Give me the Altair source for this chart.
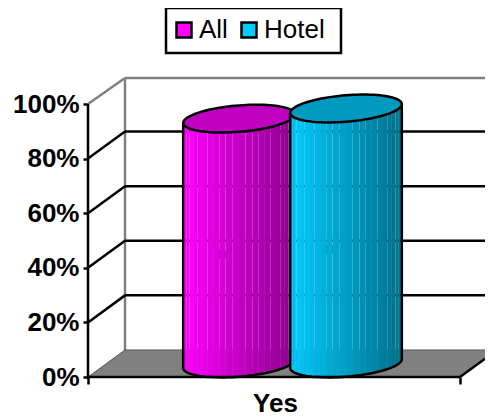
import math
import altair as alt
import pandas as pd

series = ["All", "Hotel"]
values = [89.7, 93.4]
face_colors = [(255, 0, 255), (0, 204, 255)]
cap_colors = ["#C000C0", "#0099C0"]
centers = [133.5, 240.5]          # front-plane position of each cylinder
y_ticks = [0, 20, 40, 60, 80, 100]
category = "Yes"

PLOT_W, PLOT_H = 397, 300
FRONT_W = 372
DEPTH_X, DEPTH_Y = 35, 9.9        # depth shift: x units, percent
SEMI_A, SEMI_B, SEMI_C = 53, 17.5, 5.1
STRIPS = 26
ARC = 48
Y_TOP = PLOT_H / 2.73
EDGE_Y = (PLOT_W - FRONT_W) / (DEPTH_X + 2) * DEPTH_Y

xs = alt.Scale(domain=[0, PLOT_W], nice=False, zero=False)
ys = alt.Scale(domain=[0, Y_TOP], nice=False, zero=False)
x_axis = alt.Axis(
    values=[0, FRONT_W], labels=False, grid=False, domain=False,
    tickColor="black", tickWidth=2.5, tickSize=7,
    titleFont="Liberation Sans", titleFontSize=26, titleFontWeight="bold",
    titleColor="black", titleX=187, titleY=34, titleBaseline="alphabetic")
y_axis = alt.Axis(
    values=y_ticks, labelExpr="datum.value + '%'", grid=False,
    domain=False, tickColor="black", tickWidth=2.5, tickSize=5,
    labelFont="Liberation Sans", labelFontSize=26, labelFontWeight="bold",
    labelColor="black", labelPadding=4)
X = alt.X("x:Q", scale=xs, axis=x_axis, title=category)
Y = alt.Y("y:Q", scale=ys, axis=y_axis, title=None)


def segs(rows, color, width):
    df = pd.DataFrame(rows, columns=["x", "x2", "y", "y2"])
    return alt.Chart(df).mark_rule(color=color, strokeWidth=width).encode(
        x=X, x2="x2:Q", y=Y, y2="y2:Q")


t0 = math.atan2(SEMI_B, SEMI_A)


def ell(cx, base, t):
    return (cx + DEPTH_X / 2 + SEMI_A * math.cos(t) + SEMI_B * math.sin(t),
            base + DEPTH_Y / 2 + SEMI_C * math.sin(t))


def cylinder(i):
    cx, v = centers[i], values[i]
    r0, g0, b0 = face_colors[i]
    strip_rows = []
    for k in range(STRIPS):
        s1 = math.pi * (k + 1) / STRIPS
        s2 = math.pi * k / STRIPS
        mid = (1 - math.cos((s1 + s2) / 2)) / 2     # 0 right .. 1 left
        f = 0.55 + 0.45 * mid
        col = "#%02x%02x%02x" % (int(r0 * f), int(g0 * f), int(b0 * f))
        for s in (s1, s2):
            x, yb = ell(cx, 0, t0 - s)
            _, yt = ell(cx, v, t0 - s)
            strip_rows.append({"x": x, "y": yt, "y2": yb, "c": col, "k": k})
    strips = alt.Chart(pd.DataFrame(strip_rows)).mark_area(interpolate="linear").encode(
        x=X, y=Y, y2="y2:Q",
        color=alt.Color("c:N", scale=None, legend=None), detail="k:N")

    arc = [dict(zip(("x", "y"), ell(cx, 0, t0 - math.pi * n / ARC))) for n in range(ARC + 1)]
    xl, yl = ell(cx, v, t0 - math.pi)
    xr, yr = ell(cx, v, t0)
    outline = [{"x": xl, "y": yl}] + arc[::-1] + [{"x": xr, "y": yr}]
    for o, row in enumerate(outline):
        row["o"] = o
    body_line = alt.Chart(pd.DataFrame(outline)).mark_line(
        color="black", strokeWidth=2.5).encode(x=X, y=Y, order="o:Q")

    cap_rows = []
    ring = []
    for n in range(ARC + 1):
        s = math.pi * n / ARC
        x, up = ell(cx, v, t0 + s)
        _, lo = ell(cx, v, t0 - s)
        cap_rows.append({"x": x, "y": up, "y2": lo})
    for n in range(2 * ARC + 1):
        x, y = ell(cx, v, t0 + math.pi * n / ARC)
        ring.append({"x": x, "y": y, "o": n})
    cap = alt.Chart(pd.DataFrame(cap_rows)).mark_area(color=cap_colors[i]).encode(
        x=X, y=Y, y2="y2:Q")
    cap_line = alt.Chart(pd.DataFrame(ring)).mark_line(
        color="black", strokeWidth=2.5).encode(x=X, y=Y, order="o:Q")
    return [strips, body_line, cap, cap_line]


floor = alt.Chart(pd.DataFrame([
    {"x": 0, "y": 0, "y2": 0},
    {"x": DEPTH_X + 2, "y": DEPTH_Y, "y2": 0},
    {"x": FRONT_W, "y": DEPTH_Y, "y2": 0},
    {"x": PLOT_W, "y": DEPTH_Y, "y2": EDGE_Y},
])).mark_area(color="#808080").encode(x=X, y=Y, y2="y2:Q")

wall_lines = segs(
    [[DEPTH_X + 2, PLOT_W, Y_TOP - 0.4, Y_TOP - 0.4],
     [DEPTH_X + 2, DEPTH_X + 2, DEPTH_Y, Y_TOP - 0.4],
     [0, DEPTH_X + 2, 100, Y_TOP - 0.4]],
    "#808080", 2.5)
floor_edges = segs(
    [[0, DEPTH_X + 2, 0, DEPTH_Y],
     [DEPTH_X + 2, PLOT_W, DEPTH_Y, DEPTH_Y]],
    "#555555", 1)
grid = segs(
    [[DEPTH_X + 2, PLOT_W, v + DEPTH_Y, v + DEPTH_Y] for v in y_ticks[1:-1]],
    "black", 2.5)
diagonals = segs(
    [[0, DEPTH_X + 2, v, v + DEPTH_Y] for v in y_ticks[1:-1]],
    "black", 2.5)
front_right = segs([[FRONT_W, PLOT_W, 0, EDGE_Y]], "black", 2.5)
front = segs([[0, FRONT_W, 0, 0], [0, 0, 0, 100]], "black", 2.5)

legend_box = alt.Chart(pd.DataFrame([
    {"x": 78, "x2": 253, "y": Y_TOP + 24 / 2.73, "y2": Y_TOP + 69 / 2.73}
])).mark_rect(fill="white", stroke="black", strokeWidth=2.5, clip=False).encode(
    x=X, x2="x2:Q", y=Y, y2="y2:Q")

legend_df = pd.DataFrame({"x": centers, "y": [v / 2 for v in values], "s": series})
legend_layer = alt.Chart(legend_df).mark_square(size=40, stroke="black", opacity=1).encode(
    x=X, y=Y,
    fill=alt.Fill("s:N", sort=series, scale=alt.Scale(
        domain=series, range=["#FF00FF", "#00CCFF"]),
        legend=alt.Legend(
            orient="none", legendX=77, legendY=-66, title=None, columns=2,
            symbolType="square", symbolSize=225, symbolStrokeWidth=2.5,
            symbolStrokeColor="black",
            labelFont="Liberation Sans", labelFontSize=26, labelColor="black",
            labelOffset=2, columnPadding=8, padding=6)),
)

layers = [legend_box, floor, wall_lines, floor_edges, grid, diagonals, front_right, legend_layer]
layers += cylinder(0) + cylinder(1)
layers += [front]

chart = alt.layer(*layers).properties(
    width=PLOT_W, height=PLOT_H,
    padding={"left": 80, "top": 69, "right": 0, "bottom": 39},
    autosize=alt.AutoSizeParams(type="none"),
).configure_view(stroke=None)

chart.save("out.html", embed_options={"renderer": "svg", "actions": False})
